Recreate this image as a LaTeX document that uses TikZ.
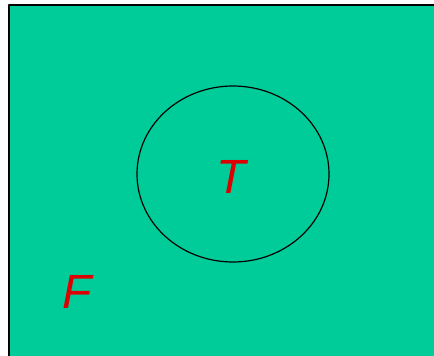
\documentclass[tikz,border=0pt]{standalone}
\usepackage{fontspec}
\setsansfont{Liberation Sans}
\usetikzlibrary{shapes.geometric}
\definecolor{universe}{RGB}{0,204,153}
\definecolor{setred}{RGB}{220,0,0}
\tikzset{
  setlabel/.style={text=setred, font=\sffamily\itshape\fontsize{48}{48}\selectfont, inner sep=0pt},
  setoval/.style={ellipse, draw, line width=1.2pt, minimum width=192pt, minimum height=176pt}
}
\begin{document}
\begin{tikzpicture}[x=1pt, y=-1pt, line join=round]
  \useasboundingbox (0,0) rectangle (434,356);
  % universe
  \fill[white] (0,0) rectangle (434,356);
  \fill[universe] (9,5) rectangle (440,362);
  \draw[line width=2pt] (9,362) -- (9,5) -- (440,5);
  % set T
  \node[setoval] (oval) at (233,174) {};
  \node[setlabel] (T) at (231,177) {T};
  \node[setlabel] (F) at (77,292) {F};
\end{tikzpicture}
\end{document}
